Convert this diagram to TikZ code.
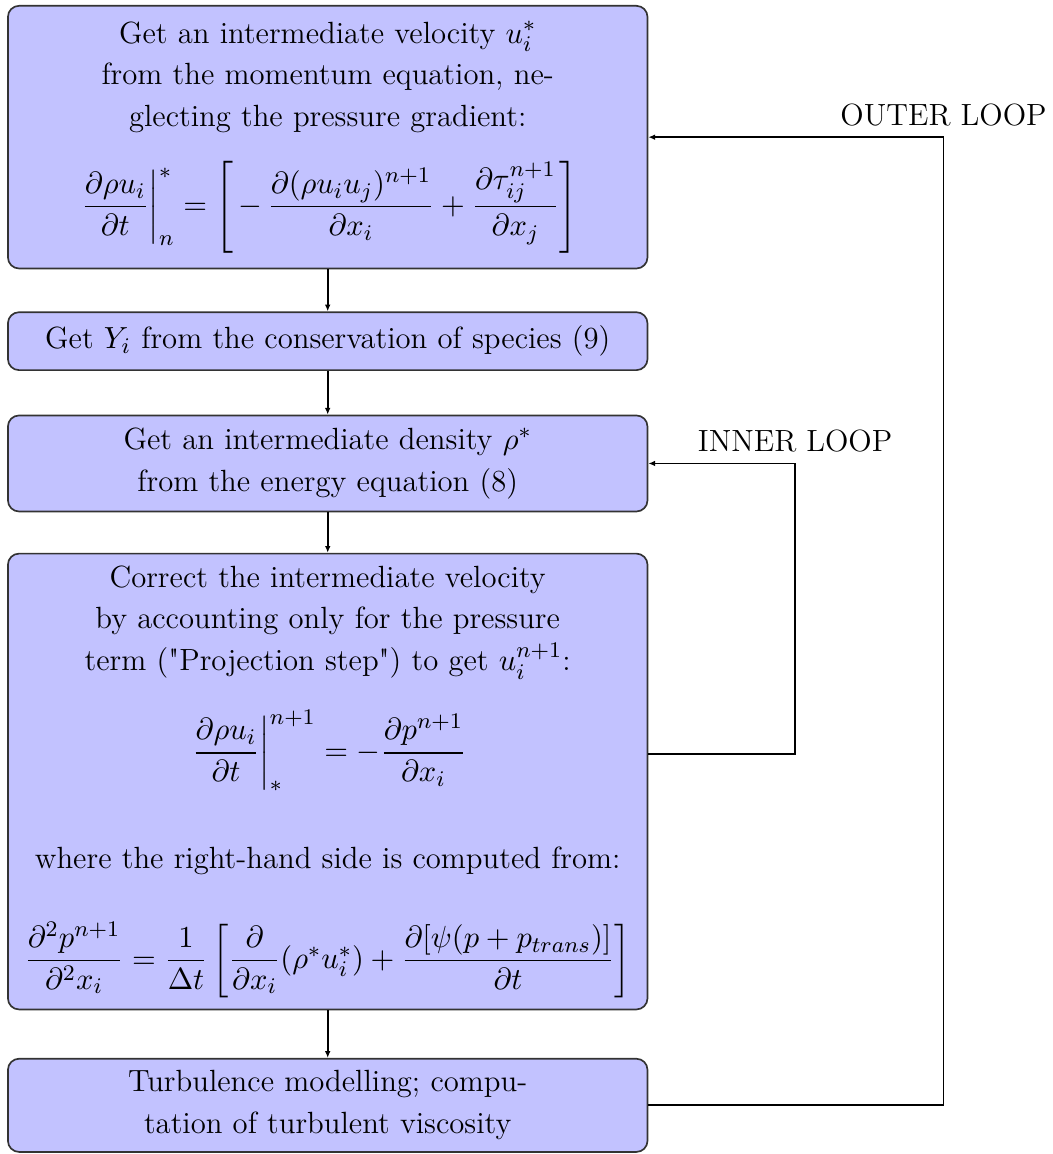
\documentclass[tikz,border=0pt]{standalone}
\usepackage{amsmath}
\usepackage{amssymb}
\usetikzlibrary{arrows.meta,positioning,calc}

% straight double quote, not turned into a curly one
\newcommand{\sq}{\XeTeXglyph\XeTeXcharglyph"22\relax}

\begin{document}
\begin{tikzpicture}[
    % --- STYLES ---
    stepbox/.style={
        rectangle, rounded corners=0.14cm,
        draw=black!80, semithick, fill=blue!24,
        text width=7.76cm, inner sep=0.15cm,
        align=center, font=\fontsize{11}{15}\selectfont
    },
    control/.style={-{Latex[length=2.4pt,width=2pt]}, semithick},
    looplabel/.style={font=\fontsize{11}{13}\selectfont, inner sep=1pt}
]

% ===== 1. BOUNDING BOX =====
\useasboundingbox (-4.13,0.063) rectangle (9.135,-14.48);

% ===== 2. MAIN COLUMN =====
\node[stepbox, anchor=north, minimum height=3.31cm] (mom) at (0,0) {Get an intermediate velocity $u_i^*$\\
    from the momentum equation, ne-\\
    glecting the pressure gradient:\\[9pt]
    \mbox{$\left.\dfrac{\partial \rho u_i}{\partial t}\right|_n^{*} = \left[\,-\,\dfrac{\partial(\rho u_i u_j)^{n+1}}{\partial x_i} + \dfrac{\partial \tau_{ij}^{n+1}}{\partial x_j}\right]$}};

\node[stepbox, below=0.53cm of mom, minimum height=0.73cm] (spec) {Get $Y_i$ from the conservation of species (9)};

\node[stepbox, below=0.55cm of spec, minimum height=1.21cm] (dens) {Get an intermediate density $\rho^*$\\
    from the energy equation (8)};

\node[stepbox, below=0.51cm of dens, minimum height=5.72cm] (proj) {Correct the intermediate velocity\\
    by accounting only for the pressure\\
    term (\sq Projection step\sq) to get $u_i^{n+1}$:\\[10pt]
    \mbox{$\left.\dfrac{\partial \rho u_i}{\partial t}\right|_{*}^{n+1} = -\dfrac{\partial p^{n+1}}{\partial x_i}$}\\[19pt]
    where the right-hand side is computed from:\\[16pt]
    \mbox{$\dfrac{\partial^2 p^{n+1}}{\partial^2 x_i} = \dfrac{1}{\Delta t}\left[\dfrac{\partial}{\partial x_i}(\rho^* u_i^*) + \dfrac{\partial[\psi(p+p_{trans})]}{\partial t}\right]$}};

\node[stepbox, below=0.6cm of proj, minimum height=1.16cm] (turb) {Turbulence modelling; compu-\\
    tation of turbulent viscosity};

% ===== 3. LOOP CORNERS =====
\coordinate (outer) at ([xshift=3.72cm]mom.east);
\coordinate (inner) at ([xshift=1.85cm]dens.east);

\node[looplabel, above=0.1cm of outer] (outerlbl) {OUTER LOOP};
\node[looplabel, above=0.1cm of inner] (innerlbl) {INNER LOOP};

% ===== 4. CONNECTIONS =====
\draw[control] (mom) -- (spec);
\draw[control] (spec) -- (dens);
\draw[control] (dens) -- (proj);
\draw[control] (proj) -- (turb);

% inner loop
\draw[control] ([yshift=0.35cm]proj.east) -| (inner) -- (dens.east);

% outer loop
\draw[control] (turb.east) -| (outer) -- (mom.east);

\end{tikzpicture}
\end{document}
